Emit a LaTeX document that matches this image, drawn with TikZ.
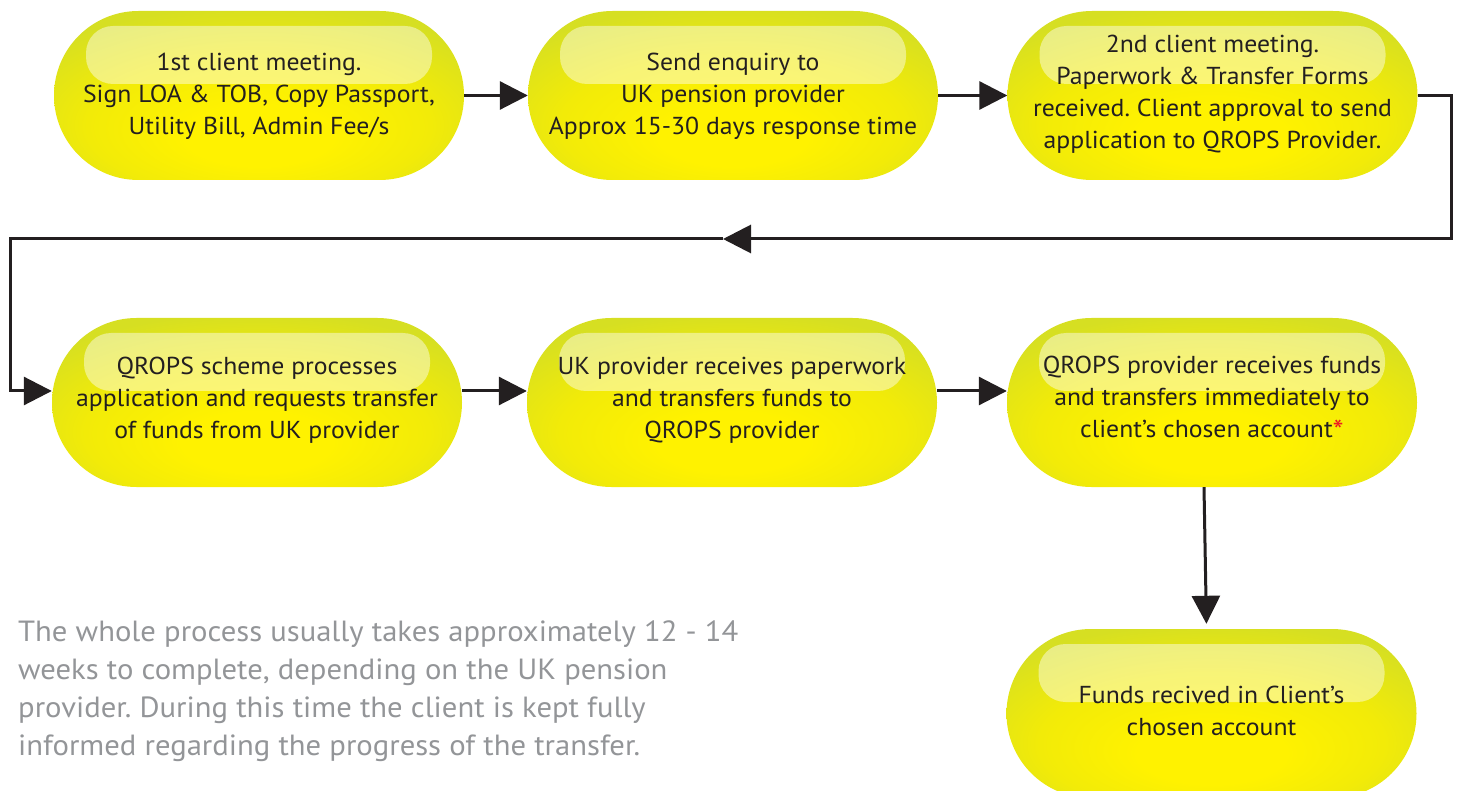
\documentclass[tikz,border=0pt]{standalone}
\usepackage{fontspec}
\setmainfont{PT Sans}[FakeStretch=1.05]
\usetikzlibrary{arrows.meta,shapes.misc,calc}
\definecolor{pillin}{RGB}{255,242,0}
\definecolor{pillmid}{RGB}{242,235,8}
\definecolor{pillout}{RGB}{214,223,34}
\definecolor{ink}{RGB}{35,31,32}
\definecolor{note}{RGB}{147,149,152}
\definecolor{star}{RGB}{237,28,36}
\pgfdeclareradialshading{pillshade}{\pgfpoint{0bp}{-14bp}}{color(0bp)=(pillin); color(9bp)=(pillin); color(21bp)=(pillmid); color(33bp)=(pillout); color(60bp)=(pillout)}
\tikzset{
  pill/.style={rounded rectangle, minimum width=410pt, minimum height=169pt, inner sep=0pt,
    shade, shading=pillshade,
    path picture={\fill[white,opacity=.45,rounded corners=27pt]
      ([xshift=32pt,yshift=-15pt]path picture bounding box.north west) rectangle
      ([xshift=-32pt,yshift=-73pt]path picture bounding box.north east);}},
  ptext/.style={align=center, text=ink, font=\fontsize{24.5}{32}\selectfont, inner sep=0pt},
  conn/.style={draw=ink, line width=3pt, -{Triangle[length=28pt,width=28pt]}},
  notetext/.style={anchor=north west, align=left, text=note, font=\fontsize{29.2}{37.7}\selectfont, inner sep=0pt}
}
\frenchspacing
\begin{document}
\begin{tikzpicture}[x=1pt,y=-1pt]
\path[use as bounding box] (0,0) rectangle (1459,791);
\clip (0,0) rectangle (1459,791);

% row 1
\node[pill] (n1) at (259,95.5) {};
\node[pill] (n2) at (733,95.5) {};
\node[pill] (n3) at (1212.5,95.5) {};
% row 2
\node[pill] (n4) at (257,402.5) {};
\node[pill] (n5) at (732,402.5) {};
\node[pill] (n6) at (1212,402.5) {};
% bottom
\node[pill] (n7) at (1211.5,713.5) {};

\node[ptext] (t1) at (259,96) {1st client meeting.\\Sign LOA \& TOB, Copy Passport,\\Utility Bill, Admin Fee/s};
\node[ptext] (t2) at (733,96) {Send enquiry to\\UK pension provider\\Approx 15-30 days response time};
\node[ptext] (t3) at (1212.5,94.5) {2nd client meeting.\\Paperwork \& Transfer Forms\\received. Client approval to send\\application to QROPS Provider.};
\node[ptext] (t4) at (257,400) {QROPS scheme processes\\application and requests transfer\\of funds from UK provider};
\node[ptext] (t5) at (732,400.5) {UK provider receives paperwork\\and transfers funds to\\QROPS provider};
\node[ptext] (t6) at (1212,399) {QROPS provider receives funds\\and transfers immediately to\\client’s chosen account\textcolor{star}{\raisebox{-4pt}{\fontsize{30}{32}\selectfont*}}};
\node[ptext] (t7) at (1211.5,711) {Funds recived in Client’s\\chosen account};

\node[notetext] (note) at (18,621) {The whole process usually takes approximately 12 - 14\\weeks to complete, depending on the UK pension\\provider. During this time the client is kept fully\\informed regarding the progress of the transfer.};

% connectors
\draw[conn] (n1.east) -- (n2.west);
\draw[conn] (n2.east) -- (n3.west);
\coordinate (ret) at (723,239);
\draw[conn] (n3.east) -- ++(34,0) |- (ret);
\draw[conn] (ret) -- (10,239) |- ([yshift=11.5pt]n4.west);
\draw[conn] ([yshift=11.5pt]n4.east) -- ([yshift=11.5pt]n5.west);
\draw[conn] ([yshift=11.5pt]n5.east) -- ([yshift=11.5pt]n6.west);
\draw[conn, shorten >=5pt] ([xshift=-8pt]n6.south) -- ([xshift=-5pt]n7.north);
\end{tikzpicture}
\end{document}
